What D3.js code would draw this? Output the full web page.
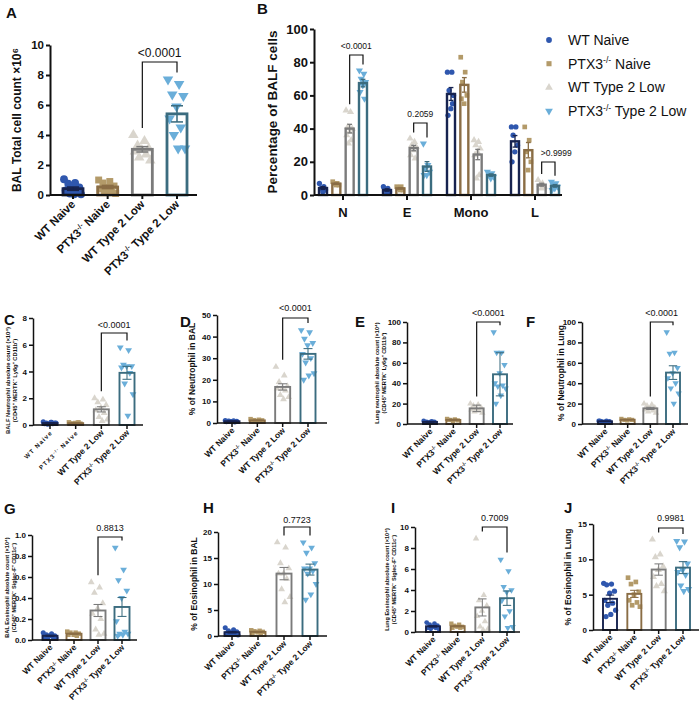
<!DOCTYPE html>
<html><head><meta charset="utf-8">
<script src="https://cdn.jsdelivr.net/npm/d3@7"></script>
<style>body{margin:0;background:#fff}svg{display:block}text{font-family:"Liberation Sans",Arial,Helvetica,sans-serif}</style>
</head><body><svg id="c" width="700" height="702"></svg>
<script>
// ---------------- DATA ----------------
const groups = ["WT Naive", "PTX3-/- Naive", "WT Type 2 Low", "PTX3-/- Type 2 Low"];
const bCategories = ["N", "E", "Mono", "L"];

// Panel A: BAL total cell count x10^6
const dataA = [
  [1.05, 0.8, 0.75, 0.5, 0.4, 0.3, 0.2, 0.1, 0.05, 0.05],
  [1.0, 0.9, 0.8, 0.6, 0.5, 0.4, 0.3, 0.2, 0.1],
  [4.0, 3.6, 3.3, 3.1, 3.0, 2.9, 2.7, 2.5, 2.3],
  [7.7, 7.4, 6.7, 6.6, 5.9, 5.1, 4.5, 4.0, 3.1, 3.1]
];
const ticksA = [0, 2, 4, 6, 8, 10];

// Panel B: percentage of BALF cells, per cell type
const dataB_N = [[7, 5, 4, 3, 2], [8, 7, 7, 6, 6], [51, 50, 41, 40, 38, 36, 33, 31], [75, 73, 70, 68, 66, 62, 58]];
const dataB_E = [[5, 4, 3, 2, 1], [5, 5, 4, 3, 3], [34, 32, 30, 29, 27, 24, 22], [31, 18, 16, 14, 12, 12]];
const dataB_Mono = [[74, 74, 63, 60, 52, 48, 55], [83, 74, 68, 60, 55, 58], [33, 32, 30, 28, 26, 24, 12, 10], [14, 13, 12, 11, 10]];
const dataB_L = [[41, 41, 36, 30, 26, 20], [41, 33, 26, 20, 15], [9, 7, 6, 5, 4], [8, 7, 6, 5, 4, 3]];
const ticksB = [0, 20, 40, 60, 80, 100];

const dataC = [
  [0.25, 0.2, 0.15, 0.15, 0.1, 0.1, 0.1, 0.05, 0.15, 0.2],
  [0.2, 0.15, 0.1, 0.1, 0.15, 0.1, 0.2, 0.1],
  [2.0, 1.9, 1.7, 1.5, 1.3, 1.1, 0.9, 0.6, 0.4, 0.3],
  [5.8, 5.6, 4.5, 4.4, 4.4, 4.3, 3.9, 3.1, 2.3, 0.7]
];
const ticksC = [0, 2, 4, 6, 8];
const dataD = [
  [1.2, 1.0, 0.9, 0.8, 0.7, 0.6, 0.5, 0.8],
  [1.8, 1.5, 1.3, 1.2, 1.0, 0.9, 0.8],
  [26, 22, 19, 17, 16, 16, 15, 13, 12, 11],
  [43, 42, 39, 37, 36, 32, 30, 28, 23, 22, 20]
];
const ticksD = [0, 10, 20, 30, 40, 50];
const dataE = [
  [3, 2.5, 2, 2, 1.5, 1.5, 2],
  [5, 4.5, 4, 3.5, 3, 4],
  [20, 19, 18, 16, 15, 14, 13, 12, 11],
  [90, 70, 70, 58, 50, 40, 38, 37, 35, 28, 20]
];
const ticksE = [0, 20, 40, 60, 80, 100];
const dataF = [
  [3, 3, 2.5, 2.5, 2, 3],
  [5, 4.5, 4, 4, 3.5],
  [20, 19, 18, 16, 15, 14, 13, 12, 11],
  [90, 70, 69, 55, 50, 45, 40, 35, 30, 20]
];
const ticksF = [0, 20, 40, 60, 80, 100];
const dataG = [
  [0.07, 0.06, 0.05, 0.04, 0.04, 0.03, 0.03, 0.02, 0.02],
  [0.08, 0.07, 0.07, 0.06, 0.05, 0.05, 0.04],
  [0.55, 0.5, 0.45, 0.35, 0.3, 0.25, 0.2, 0.1, 0.06, 0.05],
  [0.88, 0.67, 0.57, 0.47, 0.4, 0.18, 0.08, 0.06, 0.06, 0.05, 0.04]
];
const ticksG = [0, 0.2, 0.4, 0.6, 0.8, 1.0];
const dataH = [
  [1.6, 1.2, 1.0, 0.8, 0.6, 0.5, 0.4, 0.3, 0.2],
  [1.1, 1.0, 0.9, 0.8, 0.7, 0.6, 0.5],
  [18, 17, 14, 13, 12, 12, 11, 9, 7.5, 6.5],
  [18, 17, 16, 14, 13, 13, 12.5, 12, 10, 8, 7]
];
const ticksH = [0, 5, 10, 15, 20];
const dataI = [
  [0.9, 0.8, 0.7, 0.6, 0.5, 0.4, 0.4, 0.3, 0.3],
  [0.8, 0.7, 0.6, 0.5, 0.5, 0.4, 0.4],
  [8.9, 3.5, 3.0, 2.5, 2.0, 1.5, 1.0, 0.5, 0.3, 0.2],
  [6.9, 5.8, 4.3, 4.0, 3.8, 3.0, 2.0, 1.5, 0.5, 0.4]
];
const ticksI = [0, 2, 4, 6, 8, 10];
const dataJ = [
  [6.6, 6.5, 6.4, 5.5, 5.2, 4.2, 3.8, 3.5, 2.8, 2.2, 1.9],
  [7.4, 6.8, 6.5, 5.4, 5.0, 4.2, 3.9, 3.5, 3.3],
  [12.8, 10.7, 10.3, 9.0, 8.5, 7.5, 6.5, 6.2, 5.5],
  [12.6, 12.5, 11.7, 9.4, 8.5, 8.2, 7.8, 6.3, 5.8, 5.5]
];
const ticksJ = [0, 5, 10, 15];

const pValues = {A: "<0.0001", BN: "<0.0001", BE: "0.2059", BL: ">0.9999", C: "<0.0001", D: "<0.0001", E: "<0.0001", F: "<0.0001", G: "0.8813", H: "0.7723", I: "0.7009", J: "0.9981"};

// ---------------- STYLE ----------------
const pointColors = ["#2f57ae", "#b39a69", "#d9d5cd", "#6aaed9"];
const barColors = ["#17234f", "#8a6d45", "#7b7b7b", "#3b6c7f"];
const symTypes = [d3.symbolCircle, d3.symbolSquare, d3.symbolTriangle, d3.symbolTriangle];

const svg = d3.select("#c");

function labelParts(name) {
  const i = name.indexOf("-/-");
  if (i < 0) return [[name, false]];
  return [[name.slice(0, i), false], ["-/-", true], [name.slice(i + 3), false]];
}
function richText(sel, name, fs) {
  labelParts(name).forEach(([t, sup]) => {
    if (!t) return;
    const ts = sel.append("tspan").text(t);
    if (sup) ts.attr("font-size", fs * 0.62).attr("dy", -fs * 0.38);
    else if (sel.selectAll("tspan").size() > 1) ts.attr("dy", fs * 0.38);
  });
}
function sym(k, size) { return d3.symbol().type(symTypes[k]).size(size)(); }

function drawGroupBar(g, cx, bw, y, vals, k, ms, errType, sw) {
  const m = d3.mean(vals);
  const sd = d3.deviation(vals);
  const e = errType === "sd" ? sd : sd / Math.sqrt(vals.length);
  g.append("rect").attr("x", cx - bw / 2).attr("y", y(m)).attr("width", bw).attr("height", y(0) - y(m)).attr("fill", "#fff");
  const spread = bw * 0.45;
  vals.forEach((v, i) => {
    const off = spread * ((((i * 0.618034) % 1) * 2) - 1);
    g.append("path").attr("d", sym(k, ms))
      .attr("transform", `translate(${cx + off},${y(v)})${k === 3 ? " rotate(180)" : ""}`)
      .attr("fill", pointColors[k]);
  });
  g.append("rect").attr("x", cx - bw / 2).attr("y", y(m)).attr("width", bw).attr("height", y(0) - y(m))
    .attr("fill", "none").attr("stroke", barColors[k]).attr("stroke-width", sw);
  const lo = Math.max(0, m - e), hi = m + e, cw = bw * 0.3;
  g.append("line").attr("x1", cx).attr("x2", cx).attr("y1", y(lo)).attr("y2", y(hi)).attr("stroke", barColors[k]).attr("stroke-width", sw * 0.55);
  [lo, hi].forEach(v => g.append("line").attr("x1", cx - cw).attr("x2", cx + cw).attr("y1", y(v)).attr("y2", y(v)).attr("stroke", barColors[k]).attr("stroke-width", sw * 0.55));
}

function bracket(g, x1, x2, yTop, yL, yR, text, fs, textY, textDx) {
  g.append("path").attr("d", `M${x1},${yL}V${yTop}H${x2}V${yR}`).attr("fill", "none").attr("stroke", "#111").attr("stroke-width", 1.2);
  g.append("text").attr("x", (x1 + x2) / 2 + (textDx || 0)).attr("y", textY).attr("text-anchor", "middle")
    .attr("font-size", fs).attr("fill", "#111").text(text);
}

function yAxis(g, y, ax, ticks, fs, fmt, sw) {
  const a = g.append("g").attr("transform", `translate(${ax},0)`)
    .call(d3.axisLeft(y).tickValues(ticks).tickSize(4).tickSizeOuter(0).tickPadding(2).tickFormat(fmt));
  a.select(".domain").attr("stroke", "#111").attr("stroke-width", sw);
  a.selectAll(".tick line").attr("stroke", "#111").attr("stroke-width", sw);
  a.selectAll(".tick text").attr("font-size", fs).attr("font-weight", "bold").attr("fill", "#111")
    .attr("font-family", '"Liberation Sans",Arial,sans-serif');
}

function yTitle(g, lines, x, yc, fs, lh) {
  lines.forEach((ln, i) => {
    g.append("text").attr("transform", `translate(${x + i * lh},${yc}) rotate(-90)`)
      .attr("text-anchor", "middle").attr("font-size", fs).attr("font-weight", "bold").attr("fill", "#111").text(ln);
  });
}

function panelLetter(t, x, y) {
  svg.append("text").attr("x", x).attr("y", y).attr("font-size", 15).attr("font-weight", "bold").attr("fill", "#111").text(t);
}

function drawPanel(cfg, data, ticks, pval) {
  const g = svg.append("g");
  const y = d3.scaleLinear().domain([ticks[0], ticks[ticks.length - 1]]).range([cfg.bottom, cfg.top]);
  const x = d3.scalePoint().domain(groups).range([cfg.x1, cfg.x2]);
  groups.forEach((gr, k) => drawGroupBar(g, x(gr), cfg.bw, y, data[k], k, cfg.ms, cfg.err, cfg.sw));
  yAxis(g, y, cfg.ax, ticks, cfg.tickFs, cfg.fmt || d3.format("d"), cfg.asw);
  g.append("line").attr("x1", cfg.ax).attr("x2", cfg.right).attr("y1", cfg.bottom).attr("y2", cfg.bottom).attr("stroke", "#111").attr("stroke-width", cfg.asw);
  groups.forEach((gr, k) => {
    g.append("line").attr("x1", x(gr)).attr("x2", x(gr)).attr("y1", cfg.bottom).attr("y2", cfg.bottom + 4).attr("stroke", "#111").attr("stroke-width", cfg.asw);
    const t = g.append("text").attr("transform", `translate(${x(gr) + 3},${cfg.bottom + cfg.catDy}) rotate(-45)`)
      .attr("text-anchor", "end").attr("font-size", cfg.catFs).attr("font-weight", "bold").attr("fill", "#111");
    if (cfg.tinyNaive && k < 2) t.attr("font-size", cfg.catFs * 0.72).attr("letter-spacing", 1.2);
    richText(t, gr, cfg.tinyNaive && k < 2 ? cfg.catFs * 0.72 : cfg.catFs);
  });
  const xl = x(groups[2]), xr = x(groups[3]);
  const yL = Math.max(cfg.bTop + 3, y(d3.max(data[2])) - 7);
  const yR = Math.max(cfg.bTop + 3, y(d3.max(data[3])) - 7);
  bracket(g, xl, xr, cfg.bTop, yL, yR, pval, cfg.pFs, cfg.pY);
  yTitle(g, cfg.title, cfg.tx, (cfg.top + cfg.bottom) / 2 + (cfg.tyOff || 0), cfg.titleFs, cfg.lh || 0);
}

// ---------------- PANELS ----------------
panelLetter("A", 6, 18);
drawPanel({ax: 50, right: 197, top: 45, bottom: 195, x1: 73, x2: 177, bw: 20, ms: 48, sw: 2.8, asw: 2, tickFs: 11.5, catFs: 11.5, catDy: 10,
  pFs: 12, pY: 57, bTop: 62, title: ["BAL Total cell count \u00d710\u2076"], tx: 21, titleFs: 12}, dataA, ticksA, pValues.A);

panelLetter("C", 4, 325);
drawPanel({ax: 33, right: 143, top: 318, bottom: 425, x1: 50, x2: 127, bw: 15, ms: 20, sw: 1.9, asw: 1.5, tickFs: 8, catFs: 8.5, catDy: 8, tinyNaive: true,
  pFs: 9, pY: 328, bTop: 333, title: ["BALF Neutrophil absolute count (\u00d710\u2074)", "(CD45\u207a MERTK\u207b Ly6g\u207a CD11b\u207a)"], tx: 10, lh: 7, titleFs: 5.8, tyOff: 9}, dataC, ticksC, pValues.C);

panelLetter("D", 180, 327);
drawPanel({ax: 217, right: 327, top: 315, bottom: 423, x1: 232, x2: 308, bw: 15, ms: 20, sw: 1.9, asw: 1.5, tickFs: 8, catFs: 8.5, catDy: 8,
  pFs: 9, pY: 311, bTop: 318, title: ["% of Neutrophil in BAL"], tx: 195, titleFs: 8.5}, dataD, ticksD, pValues.D);

panelLetter("E", 355, 327);
drawPanel({ax: 407, right: 513, top: 322, bottom: 424, x1: 430, x2: 500, bw: 14, ms: 18, sw: 1.9, asw: 1.5, tickFs: 8, catFs: 8.5, catDy: 8, err: "sd",
  pFs: 9, pY: 316, bTop: 322, title: ["Lung neutrophil absolute count (\u00d710\u2074)", "(CD45\u207a MERTK\u207b Ly6g\u207a CD11b\u207a)"], tx: 379, lh: 7, titleFs: 5.6}, dataE, ticksE, pValues.E);

panelLetter("F", 526, 327);
drawPanel({ax: 582, right: 688, top: 322, bottom: 424, x1: 605, x2: 673, bw: 14, ms: 18, sw: 1.9, asw: 1.5, tickFs: 8, catFs: 8.5, catDy: 8,
  pFs: 9, pY: 316, bTop: 322, title: ["% of Neutrophil in Lung"], tx: 564, titleFs: 8.5}, dataF, ticksF, pValues.F);

panelLetter("G", 4, 514);
drawPanel({ax: 32, right: 137, top: 535, bottom: 640, x1: 50, x2: 122, bw: 15, ms: 20, sw: 1.9, asw: 1.5, tickFs: 8, catFs: 8.5, catDy: 8, fmt: d3.format(".1f"),
  pFs: 9, pY: 531, bTop: 537, title: ["BAL Eosinophil absolute count (\u00d710\u2074)", "(CD45\u207a MERTK\u207b Siglec-F\u207a CD11c\u207b)"], tx: 9, lh: 7, titleFs: 5.6}, dataG, ticksG, pValues.G);

panelLetter("H", 203, 513);
drawPanel({ax: 218, right: 327, top: 532, bottom: 636, x1: 232, x2: 310, bw: 15, ms: 20, sw: 1.9, asw: 1.5, tickFs: 8, catFs: 8.5, catDy: 8,
  pFs: 9, pY: 523, bTop: 527, title: ["% of Eosinophil in BAL"], tx: 197, titleFs: 8.5}, dataH, ticksH, pValues.H);

panelLetter("I", 391, 513);
drawPanel({ax: 415, right: 520, top: 527, bottom: 632, x1: 433, x2: 507, bw: 14, ms: 18, sw: 1.9, asw: 1.5, tickFs: 8, catFs: 8.5, catDy: 8,
  pFs: 9, pY: 521, bTop: 527, title: ["Lung Eosinophil absolute count (\u00d710\u2074)", "(CD45\u207a MERTK\u207b Siglec-F\u207a CD11c\u207b)"], tx: 389, lh: 7, titleFs: 5.6}, dataI, ticksI, pValues.I);

panelLetter("J", 564, 513);
drawPanel({ax: 593, right: 699, top: 524, bottom: 630, x1: 610, x2: 683, bw: 14, ms: 22, sw: 1.9, asw: 1.5, tickFs: 8, catFs: 8.5, catDy: 8,
  pFs: 9, pY: 521, bTop: 528, title: ["% of Eosinophil in Lung"], tx: 571, titleFs: 8.5}, dataJ, ticksJ, pValues.J);

// ---------------- PANEL B ----------------
(function () {
  panelLetter("B", 257, 14);
  const g = svg.append("g");
  const cfg = {ax: 314, right: 562, top: 29, bottom: 195, bw: 8, sw: 2.4, ms: 22};
  const y = d3.scaleLinear().domain([0, 100]).range([cfg.bottom, cfg.top]);
  const xc = d3.scalePoint().domain(bCategories).range([343, 535]);
  const xo = d3.scalePoint().domain(groups).range([-20, 20]);
  const sets = [dataB_N, dataB_E, dataB_Mono, dataB_L];
  bCategories.forEach((c, ci) => groups.forEach((gr, k) => drawGroupBar(g, xc(c) + xo(gr), cfg.bw, y, sets[ci][k], k, cfg.ms, "sem", cfg.sw)));
  yAxis(g, y, cfg.ax, ticksB, 13, d3.format("d"), 2);
  g.append("line").attr("x1", cfg.ax).attr("x2", cfg.right).attr("y1", cfg.bottom).attr("y2", cfg.bottom).attr("stroke", "#111").attr("stroke-width", 2);
  bCategories.forEach(c => {
    g.append("line").attr("x1", xc(c)).attr("x2", xc(c)).attr("y1", cfg.bottom).attr("y2", cfg.bottom + 5).attr("stroke", "#111").attr("stroke-width", 2);
    g.append("text").attr("x", xc(c)).attr("y", cfg.bottom + 22).attr("text-anchor", "middle").attr("font-size", 13).attr("font-weight", "bold").attr("fill", "#111").text(c);
  });
  const br = [["N", 55, 49, pValues.BN, 0], ["E", 123, 117, pValues.BE, 0], ["L", 162, 156, pValues.BL, 8]];
  br.forEach(([c, top, ty, txt, dx]) => {
    const ci = bCategories.indexOf(c);
    const x1 = xc(c) + xo(groups[2]), x2 = xc(c) + xo(groups[3]);
    const yL = Math.max(top + 3, y(d3.max(sets[ci][2])) - 6), yR = Math.max(top + 3, y(d3.max(sets[ci][3])) - 6);
    bracket(g, x1, x2, top, yL, yR, txt, 8.5, ty, dx);
  });
  yTitle(g, ["Percentage of BALF cells"], 277, 112, 13.5, 0);

  // legend
  const lg = svg.append("g");
  groups.forEach((gr, k) => {
    const yy = 40 + k * 23.7;
    lg.append("path").attr("d", sym(k, 26)).attr("transform", `translate(549,${yy})${k === 3 ? " rotate(180)" : ""}`).attr("fill", pointColors[k]);
    const t = lg.append("text").attr("x", 568).attr("y", yy + 5).attr("font-size", 14).attr("fill", "#111");
    richText(t, gr, 14);
  });
})();
</script></body></html>
